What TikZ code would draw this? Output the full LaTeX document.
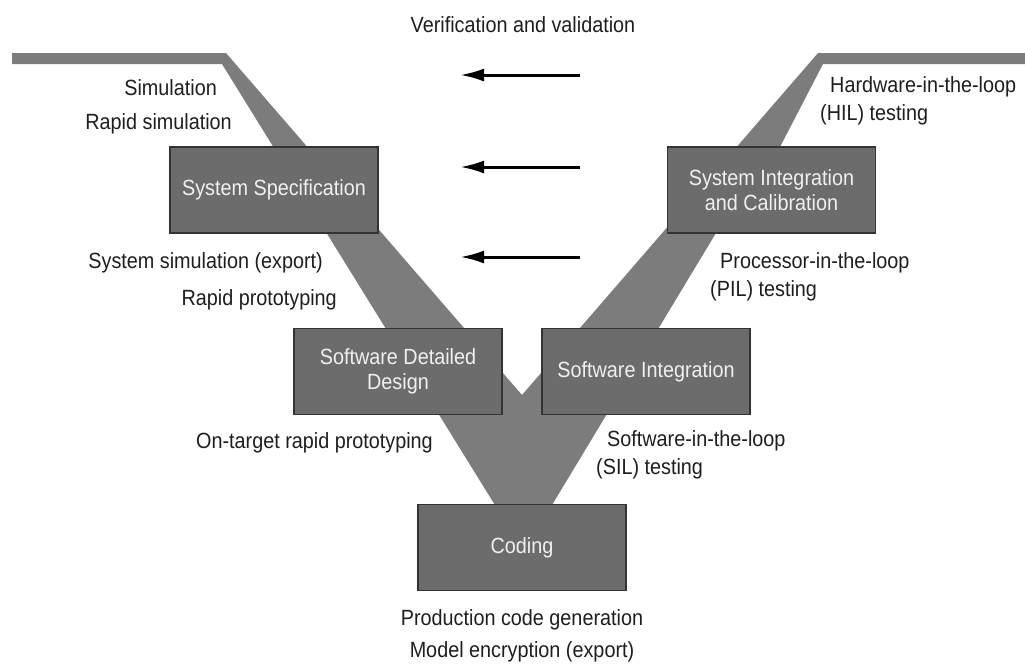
\documentclass[tikz,border=0pt]{standalone}
\usepackage{fontspec}
\setmainfont[FakeStretch=0.9]{Liberation Sans}
\usetikzlibrary{arrows.meta}
\definecolor{bandgray}{HTML}{7C7C7C}
\definecolor{boxgray}{HTML}{6C6C6C}
\definecolor{boxline}{HTML}{333333}
\definecolor{ink}{HTML}{1E1E1E}
\definecolor{boxtext}{HTML}{F0F0F0}

\begin{document}
\begin{tikzpicture}[x=1pt,y=-1pt,
  stage/.style={draw=boxline, line width=1.5pt, fill=boxgray, text=boxtext,
    minimum width=208pt, minimum height=86pt, inner sep=0pt, align=center,
    font=\fontsize{22}{25}\selectfont},
  lbl/.style={text=ink, inner sep=0pt, font=\fontsize{22}{28}\selectfont},
  flow/.style={draw=black, line width=3pt, -{Latex[length=24pt,width=13pt]}},
]
\useasboundingbox (0,0) rectangle (1025,665);

% the V-shaped development path
\fill[bandgray] (12,53) -- (226,53) -- (522,395) -- (818,53) -- (1025,53)
  -- (1025,64) -- (823,64) -- (780,147) -- (716,233) -- (549,510)
  -- (498,510) -- (222,64) -- (12,64) -- cycle;

% development stages
\node[stage] (spec)   at (274,190)   {System Specification};
\node[stage] (integ)  at (771.5,190) {System Integration\\and Calibration};
\node[stage] (design) at (398,371.5) {Software Detailed\\Design};
\node[stage] (swint)  at (646,371.5) {Software Integration};
\node[stage] (coding) at (522,547.5) {Coding};

% verification and validation arrows
\node[lbl] (vv) at (523,25) {Verification and validation};
\coordinate (a1s) at (580,75);  \coordinate (a1e) at (460,75);
\coordinate (a2s) at (580,167); \coordinate (a2e) at (460,167);
\coordinate (a3s) at (580,257); \coordinate (a3e) at (460,257);
\draw[flow] (a1s) -- (a1e);
\draw[flow] (a2s) -- (a2e);
\draw[flow] (a3s) -- (a3e);

% left-hand activities
\node[lbl, anchor=east] (sim)    at (217,88)  {Simulation};
\node[lbl, anchor=east] (rsim)   at (232,124) {Rapid simulation};
\node[lbl, anchor=east] (sysexp) at (323,263) {System simulation (export)};
\node[lbl, anchor=east] (rproto) at (337,300) {Rapid prototyping};
\node[lbl, anchor=east] (otrp)   at (433,443) {On-target rapid prototyping};

% right-hand activities
\node[lbl, anchor=west, align=left] (hil) at (820,101)
  {\hspace*{10pt}Hardware-in-the-loop\\(HIL) testing};
\node[lbl, anchor=west, align=left] (pil) at (710,276.5)
  {\hspace*{10pt}Processor-in-the-loop\\(PIL) testing};
\node[lbl, anchor=west, align=left] (sil) at (596,455)
  {\hspace*{11pt}Software-in-the-loop\\(SIL) testing};

% code generation activities
\node[lbl] (pcg) at (522,620) {Production code generation};
\node[lbl] (enc) at (522,652) {Model encryption (export)};
\end{tikzpicture}
\end{document}
